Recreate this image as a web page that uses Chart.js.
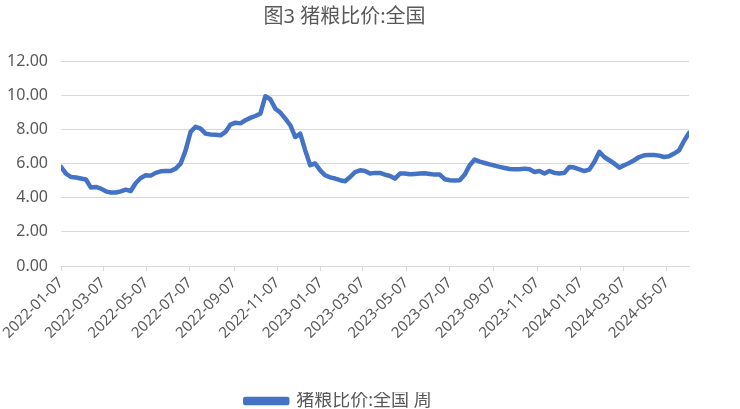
<!DOCTYPE html>
<html>
<head>
<meta charset="utf-8">
<script src="https://cdn.jsdelivr.net/npm/chart.js@4.4.1/dist/chart.umd.min.js"></script>
<style>
html, body { margin: 0; padding: 0; background: #fff; }
</style>
</head>
<body>
<canvas id="myChart" width="740" height="409"></canvas>
<script>
// weekly series, first week 2022-01-07
const startDate = '2022-01-07';
const values = [
    5.80, 5.41, 5.21, 5.18, 5.12, 5.06, 4.59, 4.63, 4.53, 4.37,
    4.30, 4.30, 4.37, 4.47, 4.39, 4.86, 5.15, 5.31, 5.29, 5.45,
    5.54, 5.56, 5.56, 5.70, 5.99, 6.77, 7.85, 8.15, 8.04, 7.75,
    7.70, 7.68, 7.65, 7.85, 8.28, 8.39, 8.35, 8.53, 8.67, 8.78,
    8.92, 9.94, 9.76, 9.21, 8.98, 8.63, 8.24, 7.55, 7.75, 6.77,
    5.90, 6.00, 5.60, 5.31, 5.19, 5.12, 5.02, 4.96, 5.21, 5.50,
    5.60, 5.56, 5.41, 5.45, 5.45, 5.35, 5.27, 5.12, 5.41, 5.41,
    5.37, 5.39, 5.41, 5.43, 5.39, 5.35, 5.35, 5.08, 5.02, 5.00,
    5.02, 5.35, 5.90, 6.23, 6.11, 6.03, 5.95, 5.88, 5.80, 5.74,
    5.68, 5.66, 5.66, 5.70, 5.66, 5.50, 5.56, 5.41, 5.56, 5.45,
    5.41, 5.45, 5.80, 5.76, 5.66, 5.56, 5.64, 6.09, 6.68, 6.38,
    6.19, 6.00, 5.76, 5.90, 6.03, 6.19, 6.38, 6.48, 6.50, 6.50,
    6.46, 6.38, 6.42, 6.58, 6.77, 7.32, 7.79
];
const tickLabels = [
    '2022-01-07', '2022-03-07', '2022-05-07', '2022-07-07', '2022-09-07',
    '2022-11-07', '2023-01-07', '2023-03-07', '2023-05-07', '2023-07-07',
    '2023-09-07', '2023-11-07', '2024-01-07', '2024-03-07', '2024-05-07'
];
const yTicks = [0, 2, 4, 6, 8, 10, 12];

const DAY = 86400000;
function dayOf(s) {
    return (Date.parse(s + 'T00:00:00Z') - Date.parse(startDate + 'T00:00:00Z')) / DAY;
}
const tickDays = tickLabels.map(dayOf);
const points = values.map((v, i) => ({ x: i * 7, y: v }));

const txt = '#595959';
const grid = '#d9d9d9';
const fam = '"Noto Sans", "Noto Sans CJK SC", sans-serif';

// nudge the legend down and a bit to the left, like the original
const legendShift = {
    id: 'legendShift',
    afterLayout(chart) {
        if (chart.legend) {
            chart.legend.top += 11;
            chart.legend.bottom += 11;
            chart.legend.left -= 6;
            chart.legend.right -= 6;
        }
    }
};

let ctx = document.getElementById('myChart').getContext('2d');

const config = {
    type: 'line',
    data: {
        datasets: [{
            label: '猪粮比价:全国 周',
            data: points,
            borderColor: '#4472c4',
            backgroundColor: '#4472c4',
            borderWidth: 4.5,
            pointRadius: 0,
            tension: 0,
            borderJoinStyle: 'round',
            borderCapStyle: 'round'
        }]
    },
    options: {
        responsive: false,
        animation: false,
        layout: { padding: { left: 0, right: 51, top: 0, bottom: 0 } },
        plugins: {
            title: {
                display: true,
                text: '图3 猪粮比价:全国',
                color: txt,
                font: { family: fam, size: 20, weight: 'normal' },
                padding: { top: 5, bottom: 32 }
            },
            legend: {
                position: 'bottom',
                labels: {
                    color: txt,
                    font: { family: fam, size: 18 },
                    boxWidth: 42,
                    boxHeight: 4,
                    padding: 0
                }
            },
            tooltip: { enabled: false }
        },
        scales: {
            x: {
                type: 'linear',
                min: 0,
                max: (values.length - 1) * 7,
                afterBuildTicks: (s) => { s.ticks = tickDays.map(v => ({ value: v })); },
                afterFit: (s) => { s.height = 115; },
                grid: { drawOnChartArea: false, drawTicks: true, tickLength: 5, color: grid },
                border: { display: true, color: grid },
                ticks: {
                    autoSkip: false,
                    minRotation: 45,
                    maxRotation: 45,
                    padding: 3,
                    color: txt,
                    font: { family: fam, size: 15 },
                    callback: (v) => tickLabels[tickDays.indexOf(v)]
                }
            },
            y: {
                min: 0,
                max: 12,
                afterBuildTicks: (s) => { s.ticks = yTicks.map(v => ({ value: v })); },
                afterFit: (s) => { s.width = 61; },
                grid: { color: grid, drawTicks: false },
                border: { display: false },
                ticks: {
                    padding: 13,
                    color: txt,
                    font: { family: fam, size: 16 },
                    callback: (v) => v.toFixed(2)
                }
            }
        }
    },
    plugins: [legendShift]
};

let myChart = new Chart(ctx, config);
</script>
</body>
</html>
